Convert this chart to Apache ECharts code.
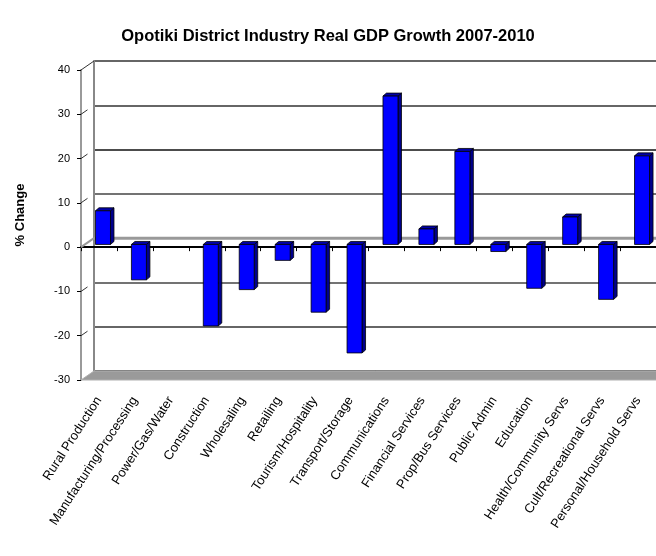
<!DOCTYPE html>
<html>
<head>
<meta charset="utf-8">
<script src="https://cdn.jsdelivr.net/npm/echarts@6/dist/echarts.min.js"></script>
<style>
  html, body { margin: 0; padding: 0; background: #fff; }
  #chart { width: 656px; height: 556px; }
</style>
</head>
<body>
<div id="chart"></div>
<script>
// Industries (categories) and real GDP growth 2007-2010 in percent
const industries = [
  'Rural Production', 'Manufacturing/Processing', 'Power/Gas/Water', 'Construction',
  'Wholesaling', 'Retailing', 'Tourism/Hospitality', 'Transport/Storage',
  'Communications', 'Financial Services', 'Prop/Bus Services', 'Public Admin',
  'Education', 'Health/Community Servs', 'Cult/Recreational Servs', 'Personal/Household Servs'
];
const growth = [7.6, -8.0, 0, -18.4, -10.2, -3.6, -15.3, -24.5, 33.5, 3.5, 21.0, -1.6, -9.9, 6.2, -12.4, 20.0];

// value axis range
const yMin = -30, yMax = 40, yStep = 10;

// pseudo-3D geometry: back wall offset and bar depth
const WALL_DX = 13, WALL_DY = -9;
const BAR_W = 15, BAR_SHIFT = 4, BAR_LIFT = -2.7, BAR_DX = 3.5, BAR_DY = -3;

const FONT = "'Liberation Sans', Arial, Helvetica, sans-serif";

const chart = echarts.init(document.getElementById('chart'), null, { renderer: 'canvas' });

// walls, floor and side-wall edges drawn once against the front axes
function renderFrame(params, api) {
  const band = api.size([1, 0])[0];
  const n = industries.length;
  const L = api.coord([0, yMin])[0] - band / 2;
  const R = api.coord([n - 1, yMin])[0] + band / 2 + 20;
  const yFloor = api.coord([0, yMin])[1];
  const yZero = api.coord([0, 0])[1];
  const children = [];
  // floor
  children.push({
    type: 'polygon',
    shape: { points: [[L, yFloor], [L + WALL_DX, yFloor + WALL_DY], [R + WALL_DX, yFloor + WALL_DY], [R, yFloor]] },
    style: { fill: '#9a9a9a', stroke: '#b0b0b0', lineWidth: 1 }
  });
  // zero plane line on the back wall
  children.push({
    type: 'line',
    shape: { x1: L + WALL_DX, y1: yZero + WALL_DY, x2: R + WALL_DX, y2: yZero + WALL_DY },
    style: { stroke: '#999', lineWidth: 3 }
  });
  children.push({
    type: 'line',
    shape: { x1: L, y1: yZero, x2: L + WALL_DX, y2: yZero + WALL_DY },
    style: { stroke: '#999', lineWidth: 2 }
  });
  // gridline stubs on the side wall
  for (let v = yMin + yStep; v <= yMax; v += yStep) {
    if (v === 0) continue;
    const y = api.coord([0, v])[1];
    const f = v === yMax ? 1 : 0.5;
    children.push({
      type: 'line',
      shape: { x1: L, y1: y, x2: L + WALL_DX * f, y2: y + WALL_DY * f },
      style: { stroke: '#333', lineWidth: 1 }
    });
  }
  return { type: 'group', children: children };
}

// one 3D column: front face, top face and right side face
function renderBar(params, api) {
  const i = api.value(0);
  const v = api.value(1);
  if (!v) return null;
  const base = api.coord([i, 0]);
  const tip = api.coord([i, v]);
  const x = base[0] + BAR_SHIFT - BAR_W / 2;
  const yA = Math.min(base[1], tip[1]) + BAR_LIFT;
  const yB = Math.max(base[1], tip[1]) + BAR_LIFT;
  const edge = { stroke: '#000', lineWidth: 0.8 };
  return {
    type: 'group',
    children: [
      {
        type: 'polygon',
        shape: { points: [[x + BAR_W, yA], [x + BAR_W + BAR_DX, yA + BAR_DY], [x + BAR_W + BAR_DX, yB + BAR_DY], [x + BAR_W, yB]] },
        style: Object.assign({ fill: '#00008c' }, edge)
      },
      {
        type: 'polygon',
        shape: { points: [[x, yA], [x + BAR_W, yA], [x + BAR_W + BAR_DX, yA + BAR_DY], [x + BAR_DX, yA + BAR_DY]] },
        style: Object.assign({ fill: '#0000a8' }, edge)
      },
      {
        type: 'rect',
        shape: { x: x, y: yA, width: BAR_W, height: yB - yA },
        style: Object.assign({ fill: '#0000ff' }, edge)
      }
    ]
  };
}

const option = {
  animation: false,
  backgroundColor: '#fff',
  title: {
    text: 'Opotiki District Industry Real GDP Growth 2007-2010',
    left: 'center',
    top: 23,
    textStyle: { fontFamily: FONT, fontSize: 16.5, fontWeight: 'bold', color: '#000' }
  },
  graphic: [
    {
      type: 'text', x: 20, y: 215, rotation: Math.PI / 2,
      style: {
        text: '% Change', align: 'center', verticalAlign: 'middle',
        font: "bold 13px 'Liberation Sans', Arial, sans-serif", fill: '#000'
      }
    }
  ],
  grid: [
    // front plane: value axis, zero line and category labels
    { left: 81, right: 0, top: 70, bottom: 176 },
    // back wall
    { left: 81 + WALL_DX, right: 0, top: 70 + WALL_DY, bottom: 176 - WALL_DY }
  ],
  xAxis: [
    {
      type: 'category', gridIndex: 0, data: industries, position: 'bottom',
      axisLine: { show: false, onZero: false },
      axisTick: { show: false },
      axisLabel: { interval: 0, rotate: 57, margin: 18, fontFamily: FONT, fontSize: 13, color: '#000' }
    },
    {
      type: 'category', gridIndex: 0, data: industries, position: 'top',
      axisLine: { show: true, onZero: true, lineStyle: { color: '#000', width: 2 } },
      axisTick: { show: true, inside: true, interval: 0, length: 4, lineStyle: { color: '#000', width: 1 } },
      axisLabel: { show: false }
    },
    {
      type: 'category', gridIndex: 1, data: industries, show: false
    }
  ],
  yAxis: [
    {
      type: 'value', gridIndex: 0, min: yMin, max: yMax, interval: yStep,
      axisLine: { show: true, lineStyle: { color: '#9a9a9a', width: 2 } },
      axisTick: { show: true, length: 4, lineStyle: { color: '#000', width: 1 } },
      axisLabel: { margin: 11, fontFamily: FONT, fontSize: 11, color: '#000' },
      splitLine: { show: false }
    },
    {
      type: 'value', gridIndex: 1, min: yMin, max: yMax, interval: yStep,
      axisLine: { show: true, lineStyle: { color: '#888', width: 2 } },
      axisTick: { show: false },
      axisLabel: { show: false },
      splitLine: {
        show: true,
        lineStyle: {
          width: 1.6,
          color: ['#222', '#333', '#444', 'rgba(0,0,0,0)', '#444', '#111', '#333', '#333']
        }
      }
    }
  ],
  series: [
    {
      type: 'custom', name: 'frame', xAxisIndex: 0, yAxisIndex: 0, z: 1,
      renderItem: renderFrame, data: [[0, 0]], silent: true
    },
    {
      type: 'custom', name: 'Real GDP growth', xAxisIndex: 0, yAxisIndex: 0, z: 3,
      renderItem: renderBar,
      encode: { x: 0, y: 1 },
      data: growth.map((v, i) => [i, v])
    }
  ]
};

chart.setOption(option);
</script>
</body>
</html>
